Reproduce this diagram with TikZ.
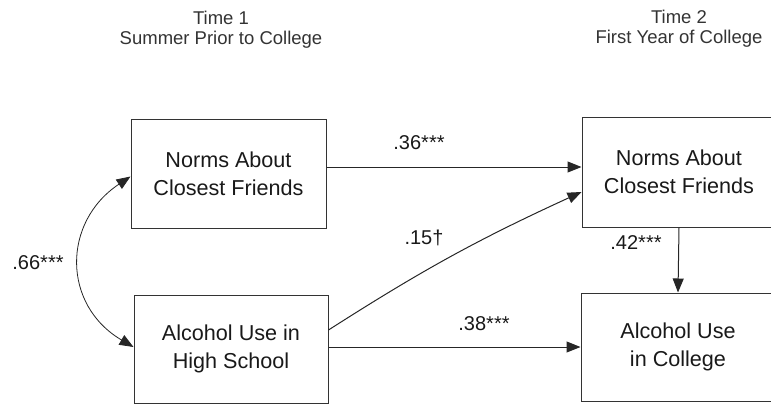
\documentclass[tikz,border=0pt]{standalone}
\usepackage{fontspec}
\setmainfont{Liberation Sans}
\usetikzlibrary{arrows.meta}
\begin{document}
\begin{tikzpicture}[x=1pt,y=-1pt,
  box/.style={draw=black!80, line width=1pt, rectangle, inner sep=0pt, align=center,
              font=\fontsize{21.6}{28}\selectfont, text=black!90},
  lbl/.style={font=\fontsize{20}{24}\selectfont, text=black!90, inner sep=0pt},
  hdr/.style={font=\fontsize{18.5}{20}\selectfont, text=black!80, align=center, inner sep=0pt},
  arr/.style={draw=black!85, line width=1pt, -{Triangle[length=14pt,width=11pt]}},
  darr/.style={draw=black!85, line width=0.8pt, {Triangle[length=14pt,width=11pt]}-{Triangle[length=14pt,width=11pt]}}]
\useasboundingbox (0,0) rectangle (771,405);
\begin{scope}
\clip (0,0) rectangle (771,405);
% headers
\node[hdr] (h1) at (221,30) {Time 1\\Summer Prior to College};
\node[hdr] (h2) at (679,29) {Time 2\\First Year of College};
% boxes
\node[box, minimum width=195pt, minimum height=109pt] (n1) at (228.5,173.5) {Norms About\\Closest Friends};
\node[box, minimum width=194pt, minimum height=108pt] (a1) at (231,349) {Alcohol Use in\\High School};
\node[box, minimum width=194pt, minimum height=110pt] (n2) at (679,172) {Norms About\\Closest Friends};
\node[box, minimum width=194pt, minimum height=108pt] (a2) at (678,347) {Alcohol Use\\in College};
% anchor points
\coordinate (s1) at ([yshift=6.5pt]n1.east);
\coordinate (s2) at ([yshift=19pt]a1.east);
\coordinate (t2) at ([yshift=-20pt]n2.west);
\coordinate (s3) at ([yshift=2pt]a1.east);
% arrows
\draw[arr] (s1) -- (s1 -| n2.west);
\draw[arr] (s2) to[bend left=4] (t2);
\draw[arr] (s3) -- (s3 -| a2.west);
\draw[arr] (n2.south) -- (a2.north);
\draw[darr] ([yshift=-3pt]n1.west) .. controls (62,222) and (62,305) .. ([yshift=2pt]a1.west);
% labels
\node[lbl] (l36) at (419,143) {.36***};
\node[lbl] (l15) at (424,238) {.15†};
\node[lbl] (l38) at (484,324) {.38***};
\node[lbl] (l42) at (636,243) {.42***};
\node[lbl] (l66) at (38,263) {.66***};
\end{scope}
\end{tikzpicture}
\end{document}
